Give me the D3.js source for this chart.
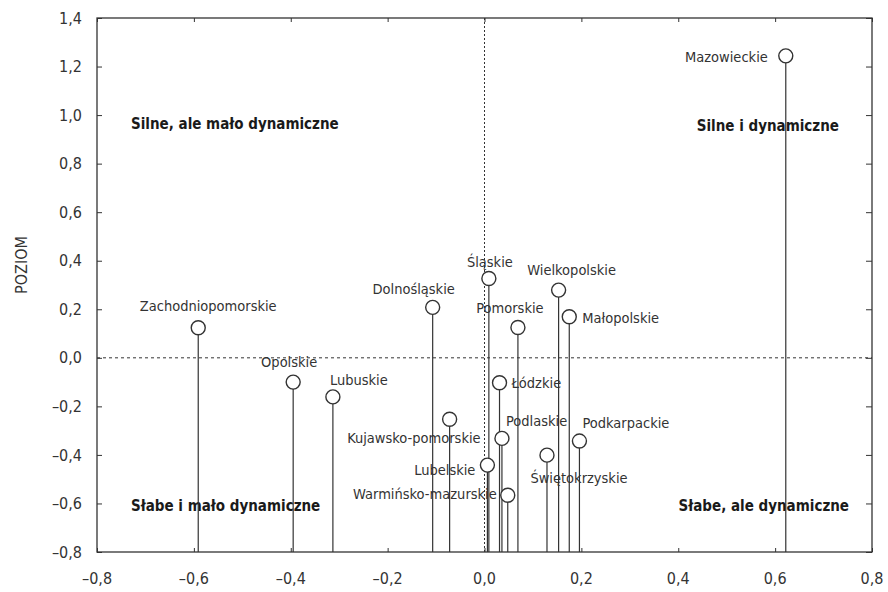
<!DOCTYPE html>
<html>
<head>
<meta charset="utf-8">
<script src="https://cdn.jsdelivr.net/npm/d3@7"></script>
<style>
  body { margin: 0; background: #fff; }
  text { font-family: "Liberation Sans Narrow", "Arial Narrow", "DejaVu Sans Condensed", "DejaVu Sans"; font-stretch: condensed; fill: #333; }
</style>
</head>
<body>
<svg id="chart" width="888" height="592"></svg>
<script>
// dane: województwa, dynamika (x) i poziom (y)
var regions = ['Mazowieckie', 'Zachodniopomorskie', 'Opolskie', 'Lubuskie', 'Dolnośląskie', 'Śląskie',
   'Wielkopolskie', 'Pomorskie', 'Małopolskie', 'Łódzkie', 'Kujawsko-pomorskie', 'Podlaskie',
   'Podkarpackie', 'Świętokrzyskie', 'Lubelskie', 'Warmińsko-mazurskie'];
var dynamika = [0.622, -0.591, -0.395, -0.313, -0.107, 0.009, 0.153, 0.069, 0.175, 0.031, -0.072, 0.036, 0.196, 0.129, 0.006, 0.048];
var poziom = [1.244, 0.124, -0.10, -0.161, 0.208, 0.327, 0.279, 0.125, 0.169, -0.103, -0.253, -0.332, -0.343, -0.401, -0.442, -0.566];
var xTicks = [-0.8, -0.6, -0.4, -0.2, 0.0, 0.2, 0.4, 0.6, 0.8];
var yTicks = [-0.8, -0.6, -0.4, -0.2, 0.0, 0.2, 0.4, 0.6, 0.8, 1.0, 1.2, 1.4];
var quadrants = ['Silne, ale mało dynamiczne', 'Silne i dynamiczne', 'Słabe i mało dynamiczne', 'Słabe, ale dynamiczne'];

// położenie podpisów względem punktów [dx, dy, anchor]
var labelPos = [[-18, 1, 'end'], [10, -22, 'middle'], [-4, -20, 'middle'], [-3, -17, 'start'],
   [-19, -18, 'middle'], [1, -17, 'middle'], [13, -20, 'middle'], [-8, -20, 'middle'],
   [13, 1, 'start'], [12, 0, 'start'], [31, 19, 'end'], [4, -17, 'start'],
   [3, -18, 'start'], [32, 23, 'middle'], [-12, 5, 'end'], [-11, -1, 'end']];

function drawChart() {
   var pl = 97, pr = 872, pt = 18, pb = 552;
   var svg = d3.select('#chart');
   var ink = '#333';

   var x = d3.scaleLinear().domain([-0.8, 0.8]).range([pl, pr]);
   var y = d3.scaleLinear().domain([-0.8, 1.4]).range([pb, pt]);

   function fmt(v) {
      return (v < -1e-9 ? '–' : '') + d3.format('.1f')(Math.abs(v)).replace('.', ',');
   }

   // osie
   var gl = svg.append('g').attr('transform', 'translate(' + pl + ',0)')
      .call(d3.axisRight(y).tickValues(yTicks).tickSize(5).tickFormat(''));
   var gr = svg.append('g').attr('transform', 'translate(' + pr + ',0)')
      .call(d3.axisLeft(y).tickValues(yTicks).tickSize(6).tickFormat(''));
   var gt = svg.append('g').attr('transform', 'translate(0,' + pt + ')')
      .call(d3.axisBottom(x).tickValues(xTicks).tickSize(4).tickFormat(''));
   var gb = svg.append('g').attr('transform', 'translate(0,' + pb + ')')
      .call(d3.axisTop(x).tickValues(xTicks).tickSize(4).tickFormat(''));
   [gl, gr, gt, gb].forEach(function (g) {
      g.select('.domain').remove();
      g.selectAll('line').attr('stroke', ink).attr('stroke-width', 1);
   });

   svg.append('rect')
      .attr('x', pl).attr('y', pt)
      .attr('width', pr - pl).attr('height', pb - pt)
      .attr('fill', 'none').attr('stroke', ink).attr('stroke-width', 1.3);

   // etykiety osi
   svg.selectAll('.ylab').data(yTicks).enter().append('text')
      .attr('x', 82).attr('y', function (d) { return y(d); })
      .attr('dy', '0.35em').attr('text-anchor', 'end')
      .style('font-size', '16px').text(fmt);

   svg.selectAll('.xlab').data(xTicks).enter().append('text')
      .attr('x', function (d) { return x(d); }).attr('y', 578)
      .attr('dy', '0.35em').attr('text-anchor', 'middle')
      .style('font-size', '16px').text(fmt);

   svg.append('text')
      .attr('transform', 'translate(21,265) rotate(-90)')
      .attr('dy', '0.35em')
      .attr('text-anchor', 'middle').style('font-size', '16px').text('POZIOM');

   // linie zerowe
   svg.append('line')
      .attr('x1', pl).attr('x2', pr).attr('y1', y(0)).attr('y2', y(0))
      .attr('stroke', ink).attr('stroke-dasharray', '3,3');
   svg.append('line')
      .attr('x1', x(0)).attr('x2', x(0)).attr('y1', pt).attr('y2', pb)
      .attr('stroke', ink).attr('stroke-dasharray', '2,2');

   // napisy ćwiartek
   var qx = [131, 839, 131, 849], qy = [124, 126, 506, 506], qa = ['start', 'end', 'start', 'end'];
   svg.selectAll('.quad').data(quadrants).enter().append('text')
      .attr('x', function (d, i) { return qx[i]; })
      .attr('y', function (d, i) { return qy[i]; })
      .attr('dy', '0.35em')
      .attr('text-anchor', function (d, i) { return qa[i]; })
      .style('font-size', '15px').style('font-weight', 'bold').style('fill', '#1a1a1a')
      .text(function (d) { return d; });

   // łodygi i punkty
   var idx = d3.range(regions.length);
   svg.selectAll('.stem').data(idx).enter().append('line')
      .attr('x1', function (i) { return x(dynamika[i]); })
      .attr('x2', function (i) { return x(dynamika[i]); })
      .attr('y1', function (i) { return y(poziom[i]); })
      .attr('y2', pb)
      .attr('stroke', ink).attr('stroke-width', 1.2);

   svg.selectAll('.pt').data(idx).enter().append('circle')
      .attr('cx', function (i) { return x(dynamika[i]); })
      .attr('cy', function (i) { return y(poziom[i]); })
      .attr('r', 7)
      .attr('fill', '#fff').attr('stroke', ink).attr('stroke-width', 1.4);

   svg.selectAll('.lab').data(idx).enter().append('text')
      .attr('x', function (i) { return x(dynamika[i]) + labelPos[i][0]; })
      .attr('y', function (i) { return y(poziom[i]) + labelPos[i][1]; })
      .attr('dy', '0.35em')
      .attr('text-anchor', function (i) { return labelPos[i][2]; })
      .style('font-size', '14.5px')
      .text(function (i) { return regions[i]; });
}

drawChart();
</script>
</body>
</html>
